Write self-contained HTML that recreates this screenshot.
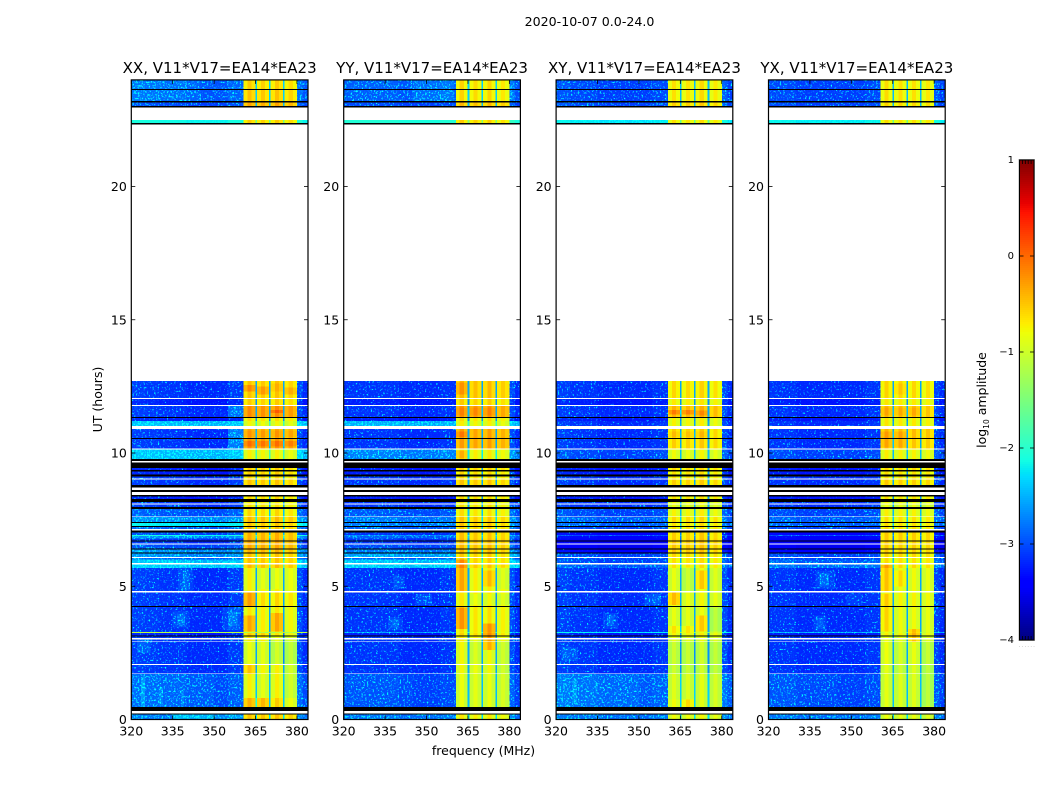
<!DOCTYPE html>
<html lang="en">
<head>
<meta charset="utf-8">
<title>2020-10-07 amplitude waterfall</title>
<style>
html,body{margin:0;padding:0;background:#fff;}
svg{display:block;font-family:"DejaVu Sans","Liberation Sans",sans-serif;fill:#000;}
</style>
</head>
<body>
<svg id="chart" xmlns="http://www.w3.org/2000/svg" width="1050" height="800" viewBox="0 0 1050 800">
  <defs>
    <filter id="grain" x="0" y="0" width="1" height="1" color-interpolation-filters="sRGB">
      <feTurbulence type="fractalNoise" baseFrequency="0.55" numOctaves="2" seed="4"/>
      <feColorMatrix type="matrix" values="0 0 0 0 0  3.4 0 0 0 -1.7  0 0 0 0 0  0 0 0 0 1"/>
    </filter>
  </defs>
  <rect x="0" y="0" width="1050" height="800" fill="#fff"/>
  <text x="589.5" y="26" font-size="12.6" text-anchor="middle">2020-10-07 0.0-24.0</text>
  <g id="panels"></g>
  <text x="483.5" y="755" font-size="12.5" text-anchor="middle">frequency (MHz)</text>
  <text transform="translate(102,399.5) rotate(-90)" font-size="12.5" text-anchor="middle">UT (hours)</text>
  <g id="colorbar"></g>
  <text transform="translate(986,400) rotate(-90)" font-size="12.5" text-anchor="middle">log<tspan font-size="7.5" dy="3">10</tspan><tspan dy="-3"> amplitude</tspan></text>
</svg>
<script>
// n = flagged (white), k = zero amplitude (black)
const n = null, k = -9;

const panelTitles = ["XX, V11*V17=EA14*EA23", "YY, V11*V17=EA14*EA23", "XY, V11*V17=EA14*EA23", "YX, V11*V17=EA14*EA23"];
const xTickLabels = [320, 335, 350, 365, 380];
const yTickLabels = [0, 5, 10, 15, 20];
const colorbarTicks = [-4, -3, -2, -1, 0, 1];

// UT row boundaries (hours), descending
const rowEdges = [24.00,23.66,23.62,23.20,23.16,23.02,22.97,22.50,22.38,22.33,
12.70,12.06,12.03,11.80,11.76,11.35,11.31,11.20,11.01,10.90,
10.56,10.53,10.17,10.13,9.77,9.70,9.64,9.44,9.36,9.30,
9.20,9.11,9.05,9.01,8.80,8.71,8.61,8.54,8.42,8.36,
8.27,8.17,8.11,8.07,7.98,7.90,7.62,7.59,7.42,7.38,
7.27,7.23,7.14,7.10,7.02,6.92,6.89,6.80,6.71,6.67,
6.61,6.56,6.42,6.37,6.27,6.23,6.10,6.06,6.01,5.87,
5.82,5.68,4.82,4.77,4.26,4.22,3.28,3.25,3.16,3.12,
3.05,3.01,2.95,2.92,2.08,2.05,1.73,1.70,0.47,0.31,
0.23,0.18,0];

// frequency column boundaries (MHz)
const freqEdges = [320,325,330,335,340,345,350,355,360.6,362,363.5,364.9,365.5,367,368.5,369.9,370.5,372,373.5,374.9,375.5,377,378.5,380,382,384];
// 1 = column belongs to a bright sub-band, 0 = quiet baseline
const bandColumns = [0,0,0,0,0,0,0,0,1,1,1,0,1,1,1,0,1,1,1,0,1,1,1,0,0];

// log10 amplitude per row, quiet part of the band
const quietXX = [-3.0,k,-3.0,k,-3.1,k,n,-2.2,k,n,
-3.2,n,-3.3,n,-3.2,k,-3.3,-2.55,n,-3.2,
k,-3.2,n,-2.55,k,n,k,-3.3,k,-3.3,
k,-3.2,n,-3.2,k,n,k,n,k,-3.3,
k,-3.2,n,-3.2,k,-3.05,n,-2.8,k,-2.3,
k,-3.0,n,k,-3.1,-2.2,-2.8,-3.2,k,-3.2,
n,-3.1,k,-2.8,k,-2.8,n,-3.0,-2.55,n,
-2.5,-3.2,n,-3.2,k,-3.2,-1.2,-3.3,k,-3.2,
n,-3.2,n,-3.2,n,-3.2,n,-3.05,k,n,
k,-2.9];
const quietYY = [-3.0,k,-3.0,k,-3.1,k,n,-2.1,k,n,
-3.2,n,-3.3,n,-3.2,k,-3.3,-2.6,n,-3.2,
k,-3.2,n,-2.85,k,n,k,-3.3,k,-3.3,
k,-3.2,n,-3.2,k,n,k,n,k,-3.3,
k,-3.2,n,-3.2,k,-3.05,n,-2.9,k,-2.9,
k,-3.0,n,k,-3.2,-2.8,-3.0,-3.2,k,-3.2,
n,-3.1,k,-2.9,k,-2.7,n,-3.0,-2.55,n,
-2.5,-3.2,n,-3.2,k,-3.2,-2.7,-3.3,k,-3.2,
n,-3.2,n,-3.2,n,-3.2,n,-3.1,k,n,
k,-2.9];
const quietXY = [-3.1,k,-3.1,k,-3.1,k,n,-2.3,k,n,
-3.2,n,-3.3,n,-3.2,k,-3.3,-3.2,n,-3.2,
k,-3.2,n,-3.1,k,n,k,-3.3,k,-3.3,
k,-3.2,n,-3.2,k,n,k,n,k,-3.3,
k,-3.2,n,-3.2,k,-3.1,n,-3.0,k,-3.0,
k,-3.1,n,k,-3.4,-3.1,-3.4,-3.45,k,-3.45,
n,-3.5,k,-3.4,k,-3.1,n,-3.1,-3.1,n,
-3.0,-3.2,n,-3.2,k,-3.2,-2.3,-3.3,k,-3.2,
n,-3.2,n,-3.2,n,-3.2,n,-3.0,k,n,
k,-2.9];
const quietYX = [-3.1,k,-3.1,k,-3.1,k,n,-2.25,k,n,
-3.2,n,-3.3,n,-3.2,k,-3.3,-3.2,n,-3.2,
k,-3.2,n,-3.1,k,n,k,-3.3,k,-3.3,
k,-3.2,n,-3.2,k,n,k,n,k,-3.3,
k,-3.2,n,-3.2,k,-3.1,n,-3.0,k,-3.0,
k,-3.1,n,k,-3.4,-3.1,-3.4,-3.45,k,-3.45,
n,-3.5,k,-3.4,k,-3.1,n,-3.1,-3.0,n,
-2.9,-3.2,n,-3.2,k,-3.2,-2.6,-3.3,k,-3.2,
n,-3.2,n,-3.2,n,-3.2,n,-3.1,k,n,
k,-2.9];

// log10 amplitude per row, bright sub-bands
const bandXX = [-0.55,k,-0.5,k,-0.35,k,n,-0.55,k,n,
-0.5,n,-0.55,n,-0.2,k,-0.65,-0.8,n,-0.35,
k,-0.25,n,-0.75,k,n,k,-0.55,k,-0.55,
k,-0.6,n,-0.5,k,n,k,n,k,-0.6,
k,-0.7,n,-0.65,k,-0.6,n,-0.45,k,-0.5,
k,-0.5,n,k,-0.4,-0.4,-0.4,-0.35,k,-0.35,
n,-0.35,k,-0.4,k,-0.5,n,-0.5,-0.5,n,
-0.45,-0.75,n,-0.6,k,-0.7,-1.1,-0.55,k,-0.7,
n,-0.7,n,-0.85,n,-0.75,n,-0.75,k,n,
k,-0.5];
const bandYY = [-0.6,k,-0.6,k,-0.45,k,n,-0.55,k,n,
-0.45,n,-0.55,n,-0.25,k,-0.65,-0.75,n,-0.3,
k,-0.3,n,-0.7,k,n,k,-0.55,k,-0.6,
k,-0.6,n,-0.5,k,n,k,n,k,-0.6,
k,-0.7,n,-0.65,k,-0.65,n,-0.5,k,-0.5,
k,-0.55,n,k,-0.5,-0.5,-0.5,-0.45,k,-0.45,
n,-0.45,k,-0.45,k,-0.55,n,-0.55,-0.55,n,
-0.5,-0.7,n,-0.7,k,-0.65,-0.7,-0.6,k,-0.7,
n,-0.7,n,-0.8,n,-0.8,n,-0.85,k,n,
k,-0.7];
const bandXY = [-0.6,k,-0.6,k,-0.5,k,n,-0.6,k,n,
-0.55,n,-0.65,n,-0.35,k,-0.7,-0.7,n,-0.5,
k,-0.5,n,-0.75,k,n,k,-0.55,k,-0.6,
k,-0.6,n,-0.5,k,n,k,n,k,-0.6,
k,-0.75,n,-0.8,k,-0.7,n,-0.55,k,-0.6,
k,-0.6,n,k,-0.5,-0.5,-0.5,-0.45,k,-0.45,
n,-0.45,k,-0.45,k,-0.55,n,-0.6,-0.6,n,
-0.6,-0.8,n,-0.75,k,-0.8,-0.8,-0.7,k,-0.8,
n,-0.8,n,-0.85,n,-0.85,n,-0.85,k,n,
k,-0.75];
const bandYX = [-0.6,k,-0.6,k,-0.55,k,n,-0.6,k,n,
-0.55,n,-0.65,n,-0.4,k,-0.65,-0.65,n,-0.4,
k,-0.45,n,-0.7,k,n,k,-0.55,k,-0.6,
k,-0.6,n,-0.5,k,n,k,n,k,-0.6,
k,-0.75,n,-0.8,k,-0.7,n,-0.6,k,-0.6,
k,-0.6,n,k,-0.5,-0.5,-0.5,-0.5,k,-0.5,
n,-0.5,k,-0.5,k,-0.55,n,-0.6,-0.6,n,
-0.55,-0.75,n,-0.7,k,-0.75,-0.8,-0.7,k,-0.8,
n,-0.8,n,-0.8,n,-0.85,n,-0.85,k,n,
k,-0.8];

// log10 offset per frequency column
const spectrumXX = [0.1,0.08,0.05,0.05,0,0,0,0.08,-0.18,0.04,-0.12,0.65,-0.18,0,-0.18,0.65,-0.18,0.04,-0.12,0.65,-0.22,-0.06,-0.22,0.15,0];
const spectrumYY = [0.05,0.05,0.05,0.05,0,0,0,0.05,-0.18,0.04,-0.18,0.65,-0.18,0,-0.18,0.65,-0.18,0.04,-0.18,0.65,-0.24,-0.08,-0.22,0.15,0];
const spectrumXY = [0.1,0.05,0.05,0,0,0,0,0.05,-0.24,-0.03,-0.2,0.65,-0.24,-0.05,-0.22,0.65,-0.22,0,-0.2,0.65,-0.26,-0.08,-0.26,0.15,0];
const spectrumYX = [0.05,0.05,0,0,0,0,0,0.05,-0.22,0,-0.2,0.65,-0.24,-0.03,-0.22,0.65,-0.24,-0.03,-0.22,0.65,-0.26,-0.08,-0.26,0.12,0];

// local features: [hourHigh, hourLow, freqLow, freqHigh, log10 offset]
const featuresXX = [[4.77,4.26,360.6,364.9,0.3],[3.9,3.3,360.6,364.9,0.35],[4.0,3.3,370.5,374.9,0.35],[2.08,1.73,360.6,364.9,0.25],[0.8,0.47,360.6,369.9,0.35],[0.8,0.47,370.5,374.9,0.2],[5.68,4.9,365.5,374.9,-0.1],[3.25,2.1,370.5,380,-0.15],
[12.55,12.3,360.6,364.9,0.3],[12.5,12.2,365.5,369.9,0.25],[12.6,12.3,370.5,374.9,0.1],[12.45,12.2,375.5,380,0.2],[11.62,11.5,370.5,374.9,0.25],[10.85,10.6,360.6,380,0.1],[10.45,10.25,360.6,380,0.2],
[4.05,3.45,335,341,0.12],[3.95,3.55,336.5,339.5,0.25],[4.2,3.35,353,359.5,0.12],[4.05,3.5,355,358.5,0.28],[5.68,4.82,337,342.5,0.12],[5.6,4.85,338.5,341,0.25],[1.7,0.47,320,350,0.07],[1.6,0.47,323.5,325,0.3],[1.2,0.5,330,331.5,0.22],[1.1,0.55,338,339,0.2],[0.18,0,335,350,0.35],[0.18,0,350,360,0.15],[10.9,10.17,355,360.6,0.3],[11.76,11.35,355,360.6,0.25],[3.0,2.5,322,327,0.15],[24,23.16,320,345,0.08],
[2.9,0.8,375.5,380,-0.15],[1.7,0.8,365.5,369.9,-0.1]];
const featuresYY = [[6.0,4.8,360.6,364.9,0.35],[5.6,5.0,370.5,374.9,0.25],[4.2,3.4,360.6,364.9,0.4],[3.6,2.6,370.5,374.9,0.4],[3.0,2.1,365.5,369.9,-0.1],[4.7,4.3,365.5,380,-0.1],[2.9,1.7,375.5,380,-0.1],
[12.65,12.2,360.6,364.9,0.2],[11.7,11.4,360.6,374.9,0.1],[10.8,10.6,360.6,364.9,0.2],[10.1,9.8,360.6,364.9,0.3],
[3.85,3.35,336,341.5,0.12],[3.75,3.45,337.5,340,0.25],[5.4,4.9,338,342,0.15],[4.7,4.3,346,352,0.15],[1.7,0.47,320,345,0.05],[24,23.16,345,360,0.12],[5.7,4.9,375.5,380,-0.1]];
const featuresXY = [[4.77,4.3,360.6,364.9,0.35],[5.6,4.9,370.5,374.9,0.3],[3.9,3.3,370.5,374.9,0.3],[3.5,3.25,360.6,369.9,0.2],[0.75,0.47,365.5,369.9,0.3],[0.75,0.47,360.6,364.9,0.1],
[11.62,11.45,360.6,369.9,0.3],[11.6,11.4,370.5,374.9,0.2],[10.8,10.6,360.6,374.9,0.1],
[4,3.4,337,342.5,0.12],[3.9,3.5,338.5,341,0.28],[4.7,4.3,352,358,0.18],[1.7,0.47,320,350,0.08],[1.5,0.6,326,327.5,0.25],[1.4,1.0,334,335,0.2],[2.7,2.2,322,328,0.15],
[2.9,1.7,360.6,380,-0.12],[5.7,4.8,365.5,369.9,-0.15],[4.2,3.3,375.5,380,-0.2]];
const featuresYX = [[5.8,4.8,360.6,364.9,0.3],[4.7,3.3,360.6,364.9,0.2],[3.4,2.9,370.5,374.9,0.35],[5.6,5,365.5,369.9,0.2],
[10.8,10.2,360.6,369.9,0.15],[11.7,11.4,360.6,374.9,0.1],[12.6,12.2,365.5,369.9,0.1],
[5.6,4.9,337,344,0.12],[5.5,5.0,338.5,342,0.28],[3.9,3.3,336.5,341,0.12],[3.8,3.4,337.5,340,0.22],[4.7,4.3,348,354,0.1],[1.7,0.47,320,345,0.05],
[2.9,0.5,375.5,380,-0.15],[2.9,1.7,365.5,369.9,-0.1]];

const quietByPanel = [quietXX, quietYY, quietXY, quietYX];
const bandByPanel = [bandXX, bandYY, bandXY, bandYX];
const spectrumByPanel = [spectrumXX, spectrumYY, spectrumXY, spectrumYX];
const featuresByPanel = [featuresXX, featuresYY, featuresXY, featuresYX];

const SVGNS = 'http://www.w3.org/2000/svg';
const panelLeft = 131.3, panelStep = 212.4, panelWidth = 176.7;
const axisBottom = 719.5, pxPerHour = 26.65;
const freqMin = 320, freqMax = 384;

function xScale(freq, panel) {
  return panelLeft + panel * panelStep + (freq - freqMin) / (freqMax - freqMin) * panelWidth;
}
function yScale(hour) {
  return axisBottom - hour * pxPerHour;
}
function cbarScale(value) {
  return 160 + (1 - value) / 5 * 480;
}
function jet(value) {
  const t = Math.max(0, Math.min(1, (value + 4) / 5));
  const ramp = (points) => {
    for (let i = 1; i < points.length; i++) {
      if (t <= points[i][0]) {
        const a = points[i - 1], b = points[i];
        return a[1] + (b[1] - a[1]) * (t - a[0]) / (b[0] - a[0]);
      }
    }
    return points[points.length - 1][1];
  };
  const r = ramp([[0,0],[0.35,0],[0.66,1],[0.89,1],[1,0.5]]);
  const g = ramp([[0,0],[0.125,0],[0.375,1],[0.64,1],[0.91,0],[1,0]]);
  const b = ramp([[0,0.5],[0.11,1],[0.34,1],[0.65,0],[1,0]]);
  return 'rgb(' + Math.round(r * 255) + ',' + Math.round(g * 255) + ',' + Math.round(b * 255) + ')';
}
function mk(tag, attrs, parent) {
  const el = document.createElementNS(SVGNS, tag);
  for (const key in attrs) el.setAttribute(key, attrs[key]);
  parent.appendChild(el);
  return el;
}
function cellLevel(panel, row, col) {
  const rowQuiet = quietByPanel[panel][row];
  const rowBand = bandByPanel[panel][row];
  if (rowQuiet === null) return null;
  if (rowQuiet === k) return k;
  const base = bandColumns[col] ? rowBand : rowQuiet;
  return base + spectrumByPanel[panel][col];
}
function fillFor(level) {
  return level === k ? '#000' : jet(level);
}

const panelsRoot = document.getElementById('panels');

panelTitles.forEach(function (title, p) {
  const x0 = xScale(freqMin, p), x1 = xScale(freqMax, p);
  const top = yScale(24), bottom = yScale(0);

  const group = mk('g', {}, panelsRoot);
  
  

  const heat = mk('g', {'shape-rendering': 'crispEdges'}, group);
  
  

  for (let r = 0; r < rowEdges.length - 1; r++) {
    for (let c = 0; c < freqEdges.length - 1; c++) {
      const level = cellLevel(p, r, c);
      if (level === null) continue;
      const cell = mk('rect', {
        x: xScale(freqEdges[c], p),
        y: yScale(rowEdges[r]),
        width: xScale(freqEdges[c + 1], p) - xScale(freqEdges[c], p),
        height: yScale(rowEdges[r + 1]) - yScale(rowEdges[r]),
        fill: fillFor(level)
      }, heat);
      
      
    }
  }

  featuresByPanel[p].forEach(function (feature) {
    for (let r = 0; r < rowEdges.length - 1; r++) {
      const hi = Math.min(feature[0], rowEdges[r]);
      const lo = Math.max(feature[1], rowEdges[r + 1]);
      if (hi <= lo) continue;
      for (let c = 0; c < freqEdges.length - 1; c++) {
        const f0 = Math.max(feature[2], freqEdges[c]);
        const f1 = Math.min(feature[3], freqEdges[c + 1]);
        if (f1 <= f0) continue;
        const level = cellLevel(p, r, c);
        if (level === null || level === k) continue;
        const patch = mk('rect', {
          x: xScale(f0, p),
          y: yScale(hi),
          width: xScale(f1, p) - xScale(f0, p),
          height: yScale(lo) - yScale(hi),
          fill: jet(level + feature[4])
        }, heat);
        
        
      }
    }
  });

  // purely decorative receiver-noise texture over the quiet channels
  [[320, 360.6], [380, 384]].forEach(function (range) {
    const grain = mk('rect', {
      x: xScale(range[0], p),
      y: top,
      width: xScale(range[1], p) - xScale(range[0], p),
      height: bottom - top,
      filter: 'url(#grain)',
      style: 'mix-blend-mode:color-dodge'
    }, group);
    
    
  });

  const frame = mk('rect', {x: x0, y: top, width: x1 - x0, height: bottom - top, fill: 'none', stroke: '#000', 'stroke-width': 1.2}, group);
  
  

  yTickLabels.forEach(function (hour) {
    const y = yScale(hour);
    const tickLeft = mk('line', {x1: x0, x2: x0 + 4, y1: y, y2: y, stroke: '#000', 'stroke-width': 0.8}, group);
    
    
    const tickRight = mk('line', {x1: x1 - 4, x2: x1, y1: y, y2: y, stroke: '#000', 'stroke-width': 0.8}, group);
    
    
    const label = mk('text', {x: x0 - 4.5, y: y + 4.5, 'font-size': 12.5, 'text-anchor': 'end'}, group);
    label.textContent = hour;
    
    
  });

  xTickLabels.forEach(function (freq) {
    const x = xScale(freq, p);
    const tickBottom = mk('line', {x1: x, x2: x, y1: bottom, y2: bottom - 4, stroke: '#000', 'stroke-width': 0.8}, group);
    
    
    const tickTop = mk('line', {x1: x, x2: x, y1: top, y2: top + 4, stroke: '#000', 'stroke-width': 0.8}, group);
    
    
    const label = mk('text', {x: x, y: 735.5, 'font-size': 12.5, 'text-anchor': 'middle'}, group);
    label.textContent = freq;
    
    
  });

  const heading = mk('text', {x: (x0 + x1) / 2, y: 73, 'font-size': 15, 'text-anchor': 'middle'}, group);
  heading.textContent = title;
  
  
});

// colour bar
const cbarRoot = document.getElementById('colorbar');
const cbarLeft = 1019.5, cbarRight = 1034;
const ramp = mk('g', {'shape-rendering': 'crispEdges'}, cbarRoot);


for (let i = 0; i < 240; i++) {
  const level = 1 - (i + 0.5) / 240 * 5;
  const swatch = mk('rect', {x: cbarLeft, y: 160 + i * 2, width: cbarRight - cbarLeft, height: 2.2, fill: jet(level)}, ramp);
  
  
}
const cbarHalo = mk('rect', {x: cbarLeft - 0.5, y: 159.5, width: cbarRight - cbarLeft + 1, height: 481, fill: 'none', stroke: '#aaa', 'stroke-width': 1}, cbarRoot);


const cbarFrame = mk('rect', {x: cbarLeft, y: 160, width: cbarRight - cbarLeft, height: 480, fill: 'none', stroke: '#000', 'stroke-width': 1}, cbarRoot);



colorbarTicks.forEach(function (value) {
  const y = cbarScale(value);
  const tickA = mk('line', {x1: cbarLeft, x2: cbarLeft + 4, y1: y, y2: y, stroke: '#000', 'stroke-width': 0.8}, cbarRoot);
  
  
  const tickB = mk('line', {x1: cbarRight - 4, x2: cbarRight, y1: y, y2: y, stroke: '#000', 'stroke-width': 0.8}, cbarRoot);
  
  
  const label = mk('text', {x: 1014, y: y + 3, 'font-size': 10, 'text-anchor': 'end'}, cbarRoot);
  label.textContent = value < 0 ? '\u2212' + Math.abs(value) : String(value);
  
  
});

for (let i = 0; i < 6; i++) {
  const x = cbarLeft + i * (cbarRight - cbarLeft) / 5;
  const minorTop = mk('line', {x1: x, x2: x, y1: 160, y2: 164, stroke: '#000', 'stroke-width': 0.8}, cbarRoot);
  
  
  const minorBottom = mk('line', {x1: x, x2: x, y1: 636, y2: 640, stroke: '#000', 'stroke-width': 0.8}, cbarRoot);
  
  
  const dot = mk('text', {x: x, y: 647, 'font-size': 4, 'text-anchor': 'middle', fill: '#555'}, cbarRoot);
  dot.textContent = '.';
  
  
}
</script>
</body>
</html>
